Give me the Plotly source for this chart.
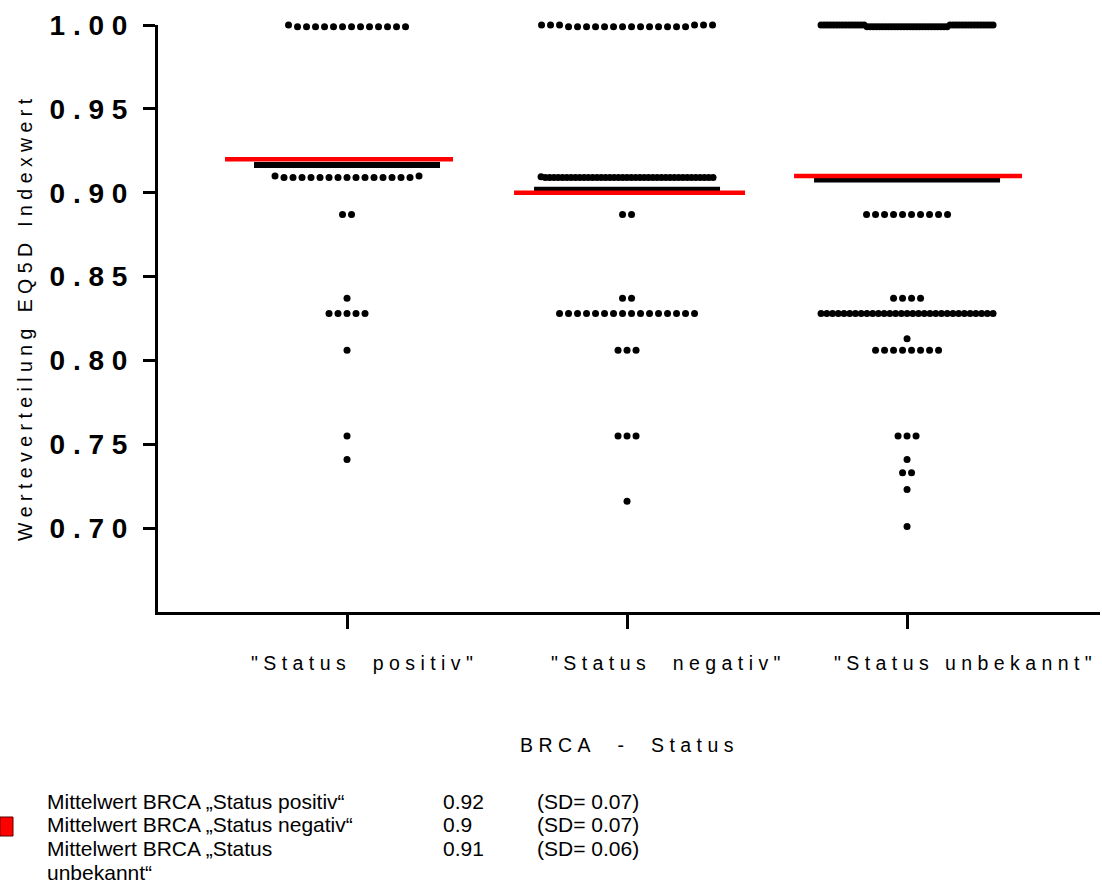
import plotly.graph_objects as go

# ---- data -------------------------------------------------------------
categories = ['"Status  positiv"', '"Status  negativ"', '"Status unbekannt"']

# EQ-5D index values per BRCA group and how many patients share each value
values_pos = [1.000, 0.999, 0.910, 0.909, 0.887, 0.837, 0.828, 0.806, 0.755, 0.741]
counts_pos = [1, 13, 2, 15, 2, 1, 5, 1, 1, 1]

values_neg = [1.000, 0.999, 0.9095, 0.909, 0.887, 0.837, 0.828, 0.806, 0.755, 0.716]
counts_neg = [6, 14, 1, 40, 2, 2, 16, 3, 3, 1]

values_unk = [1.000, 0.999, 0.909, 0.887, 0.837, 0.828, 0.813, 0.806, 0.755,
              0.741, 0.733, 0.723, 0.701]
counts_unk = [30, 27, 15, 10, 4, 31, 1, 8, 3, 1, 2, 1, 1]

# reported group means and standard deviations
group_means = [0.92, 0.90, 0.91]
group_sd = [0.07, 0.07, 0.06]
legend_names = ['Mittelwert BRCA „Status positiv“',
                'Mittelwert BRCA „Status negativ“',
                'Mittelwert BRCA „Status<br>unbekannt“']

y_ticks = [0.70, 0.75, 0.80, 0.85, 0.90, 0.95, 1.00]

# ---- layout constants -------------------------------------------------
W, H = 1102, 888
M_L, M_R, M_T, M_B = 158, 2, 25, 276
X_RANGE = [-0.675, 2.689]
Y_RANGE = [0.65, 1.00]
PLOT_W = W - M_L - M_R
PLOT_H = H - M_T - M_B
PX_PER_UNIT = PLOT_W / (X_RANGE[1] - X_RANGE[0])
DOT_STEP = 9 / PX_PER_UNIT        # gap between neighbouring dots
MAX_ROW = 172 / PX_PER_UNIT       # widest a row of dots may get
ROW_TOL = 0.004                   # values closer than this share a row
MEAN_HALF = 93 / PX_PER_UNIT
RED_LEFT_PX = [122, 113, 113]     # reach of the red mean line left / right of the column
RED_RIGHT_PX = [106, 118, 115]
LABEL_SHIFT_PX = [15, 39, 56]     # category label offset from its tick

FONT = "Liberation Sans, Arial, sans-serif"
NB = "\u00a0"


def spaced(text):
    """Letter-spaced text, as the axis labels are drawn."""
    return NB.join(text.replace(" ", NB))


def px_x(px):
    return (px - M_L) / PLOT_W


def px_y(py):
    return (H - M_B - py) / PLOT_H


def swarm(center, values, counts):
    """Column scatter: identical values are spread horizontally around the centre."""
    rows = []
    for v, c in sorted(zip(values, counts)):
        if rows and v - rows[-1][-1][0] < ROW_TOL:
            rows[-1].append((v, c))
        else:
            rows.append([(v, c)])
    xs, ys = [], []
    for row in rows:
        base_v, base_c = row[0]
        left, right = [], []
        for v, c in row[1:]:
            nl = (c + 1) // 2
            left += [v] * nl
            right += [v] * (c - nl)
        seq = left + [base_v] * base_c + right
        n = len(seq)
        step = DOT_STEP if n < 2 else min(DOT_STEP, MAX_ROW / (n - 1))
        for i, v in enumerate(seq):
            xs.append(center + (i - (n - 1) / 2) * step)
            ys.append(v)
    return xs, ys


def weighted_mean(values, counts):
    return sum(v * c for v, c in zip(values, counts)) / sum(counts)


groups = [(values_pos, counts_pos), (values_neg, counts_neg), (values_unk, counts_unk)]

fig = go.Figure()

# dots
for gi, (vals, cnts) in enumerate(groups):
    xs, ys = swarm(gi, vals, cnts)
    fig.add_trace(go.Scatter(
        x=xs, y=ys, mode="markers",
        marker=dict(size=7, color="black", line=dict(width=0)),
        cliponaxis=False, showlegend=False, hoverinfo="skip"))

# black mean bar computed from the dots
for gi, (vals, cnts) in enumerate(groups):
    m = weighted_mean(vals, cnts)
    fig.add_trace(go.Scatter(
        x=[gi - MEAN_HALF, gi + MEAN_HALF], y=[m, m], mode="lines",
        line=dict(color="black", width=6), showlegend=False, hoverinfo="skip"))

# red line for the reported mean
for gi, m in enumerate(group_means):
    fig.add_trace(go.Scatter(
        x=[gi - RED_LEFT_PX[gi] / PX_PER_UNIT, gi + RED_RIGHT_PX[gi] / PX_PER_UNIT],
        y=[m, m], mode="lines",
        line=dict(color="#ff0000", width=4.5), showlegend=False, hoverinfo="skip"))

fig.update_layout(
    width=W, height=H,
    margin=dict(l=M_L, r=M_R, t=M_T, b=M_B, pad=0),
    plot_bgcolor="white", paper_bgcolor="white",
    font=dict(family=FONT, color="black"),
    xaxis=dict(
        range=X_RANGE, tickvals=[0, 1, 2], ticktext=["", "", ""],
        ticks="outside", ticklen=14, tickwidth=3, tickcolor="black",
        showline=True, linewidth=3, linecolor="black",
        showgrid=False, zeroline=False, fixedrange=True),
    yaxis=dict(
        range=Y_RANGE, tickvals=y_ticks,
        ticktext=[spaced(f"{t:.2f}") for t in y_ticks],
        tickfont=dict(size=28, family=FONT, color="black", weight="bold"),
        ticks="outside", ticklen=12, tickwidth=3, tickcolor="black",
        ticklabelstandoff=10,
        showline=True, linewidth=3, linecolor="black",
        showgrid=False, zeroline=False, fixedrange=True),
)

annotations = [
    dict(text=spaced("Werteverteilung EQ5D Indexwert"), textangle=-90,
         x=px_x(25), y=px_y(320), xref="paper", yref="paper",
         xanchor="center", yanchor="middle", showarrow=False,
         font=dict(size=19.5, family=FONT, color="black")),
    dict(text=spaced("BRCA  -  Status"),
         x=px_x(627), y=px_y(745), xref="paper", yref="paper",
         xanchor="center", yanchor="middle", showarrow=False,
         font=dict(size=19.5, family=FONT, color="black")),
]

# category labels under the ticks
for gi, cat in enumerate(categories):
    annotations.append(dict(
        text=spaced(cat), x=gi + LABEL_SHIFT_PX[gi] / PX_PER_UNIT, y=px_y(663),
        xref="x", yref="paper", xanchor="center", yanchor="middle", showarrow=False,
        font=dict(size=19.5, family=FONT, color="black")))

# mean / SD table under the chart
TABLE_FONT = dict(size=21, family=FONT, color="black")
ROW_PITCH = 23.7
line_y = [801, 801 + ROW_PITCH, 801 + 2 * ROW_PITCH]


def table_cell(text, px, py):
    return dict(text=text, x=px_x(px), y=px_y(py), xref="paper", yref="paper",
                xanchor="left", yanchor="middle", showarrow=False,
                borderpad=0, font=TABLE_FONT)


for i, (name, m, sd) in enumerate(zip(legend_names, group_means, group_sd)):
    parts = name.split("<br>")
    annotations.append(table_cell(parts[0], 46, line_y[i]))
    if len(parts) > 1:
        annotations.append(table_cell(parts[1], 46, line_y[i] + ROW_PITCH))
    annotations.append(table_cell(f"{m:g}", 442, line_y[i]))
    annotations.append(table_cell(f"(SD= {sd:.2f})", 536, line_y[i]))

fig.update_layout(annotations=annotations)

# small red key square next to the table
fig.add_shape(type="rect", xref="paper", yref="paper",
              x0=px_x(0), x1=px_x(13), y0=px_y(836), y1=px_y(817),
              fillcolor="#ff0000", line=dict(color="#5a0000", width=1))

fig.write_html("out.html")
